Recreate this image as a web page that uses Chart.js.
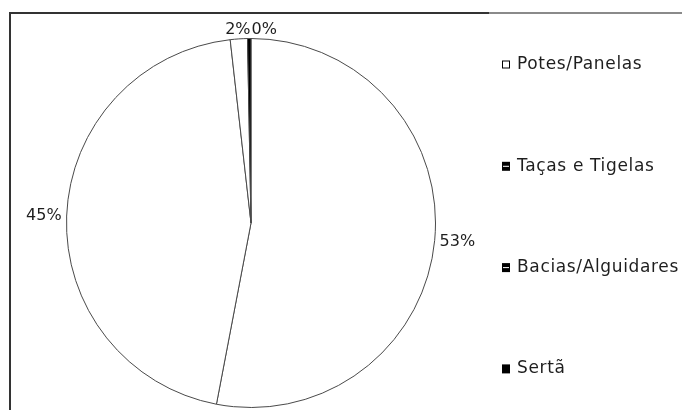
<!DOCTYPE html>
<html>
<head>
<meta charset="utf-8">
<script src="https://cdn.jsdelivr.net/npm/chart.js@4.4.0/dist/chart.umd.min.js"></script>
<style>
  html, body { margin: 0; padding: 0; background: #fff; }
  #wrap { width: 682px; height: 410px; position: relative; }
</style>
</head>
<body>
<div id="wrap"><canvas id="grafico"></canvas></div>
<script>
  // dados
  const categories = ["Potes/Panelas", "Taças e Tigelas", "Bacias/Alguidares", "Sertã"];
  const shares = [53.0, 45.2, 1.5, 0.3];

  const sliceColors = ["#ffffff", "#ffffff", "#ffffff", "#000000"];
  const markerKinds = ["open", "striped", "striped", "solid"];
  const FONT = "'DejaVu Sans', sans-serif";

  // moldura parcial (topo e esquerda)
  const frame = {
    id: "frame",
    beforeDraw(chart) {
      const ctx = chart.ctx;
      ctx.save();
      ctx.fillStyle = "#fff";
      ctx.fillRect(0, 0, chart.width, chart.height);
      ctx.lineWidth = 2;
      ctx.strokeStyle = "#333";
      ctx.beginPath();
      ctx.moveTo(10, chart.height);
      ctx.lineTo(10, 13);
      ctx.lineTo(489, 13);
      ctx.stroke();
      ctx.strokeStyle = "#8a8a8a";
      ctx.beginPath();
      ctx.moveTo(489, 13);
      ctx.lineTo(chart.width, 13);
      ctx.stroke();
      ctx.restore();
    }
  };

  // rótulos de percentagem fora da fatia
  const pctLabels = {
    id: "pctLabels",
    afterDatasetsDraw(chart) {
      const ctx = chart.ctx;
      const meta = chart.getDatasetMeta(0);
      const total = shares.reduce((a, b) => a + b, 0);
      ctx.save();
      ctx.font = "16px " + FONT;
      ctx.fillStyle = "#1e1e1e";
      ctx.textAlign = "center";
      ctx.textBaseline = "middle";
      let prev = null;
      meta.data.forEach((arc, i) => {
        const p = arc.getProps(["x", "y", "startAngle", "endAngle", "outerRadius"], true);
        const mid = (p.startAngle + p.endAngle) / 2;
        const c = Math.cos(mid), s = Math.sin(mid);
        const txt = Math.round(shares[i] / total * 100) + "%";
        const w = ctx.measureText(txt).width, h = 13;
        const r = p.outerRadius + 2 + 3 * Math.abs(c);
        let bx = p.x + c * r + c * w / 2;
        let by = p.y + s * r + s * h / 2;
        if (prev && Math.abs(by - prev.y) < h && bx - w / 2 < prev.x + prev.w / 2 + 1) {
          bx = prev.x + prev.w / 2 + 1 + w / 2;
        }
        ctx.fillText(txt, bx, by);
        prev = { x: bx, y: by, w: w };
      });
      ctx.restore();
    }
  };

  // legenda à direita
  const legendRight = {
    id: "legendRight",
    afterDraw(chart) {
      const ctx = chart.ctx;
      ctx.save();
      ctx.font = "17px " + FONT;
      ctx.textBaseline = "middle";
      ctx.textAlign = "left";
      categories.forEach((name, i) => {
        const y = 65 + i * 101.3;
        const mx = 502, my = y - 4.5;
        if (markerKinds[i] === "open") {
          ctx.fillStyle = "#fff";
          ctx.fillRect(mx, my, 8, 8);
          ctx.strokeStyle = "#000";
          ctx.lineWidth = 1;
          ctx.strokeRect(mx + 0.5, my + 0.5, 7, 7);
        } else {
          ctx.fillStyle = "#000";
          ctx.fillRect(mx, my, 8, 9);
          if (markerKinds[i] === "striped") {
            ctx.fillStyle = "#fff";
            ctx.fillRect(mx + 1, my + 4, 6, 1);
          }
        }
        ctx.fillStyle = "#1e1e1e";
        ctx.letterSpacing = "0.65px";
        ctx.fillText(name, 517, y);
      });
      ctx.restore();
    }
  };

  new Chart(document.getElementById("grafico"), {
    type: "pie",
    data: {
      labels: categories,
      datasets: [{
        data: shares,
        backgroundColor: sliceColors,
        borderColor: "#4a4a4a",
        borderWidth: 1
      }]
    },
    options: {
      responsive: true,
      maintainAspectRatio: false,
      animation: false,
      layout: { padding: { left: 66, right: 246, top: 38, bottom: 2 } },
      plugins: {
        legend: { display: false },
        tooltip: { enabled: false }
      }
    },
    plugins: [frame, pctLabels, legendRight]
  });
</script>
</body>
</html>
